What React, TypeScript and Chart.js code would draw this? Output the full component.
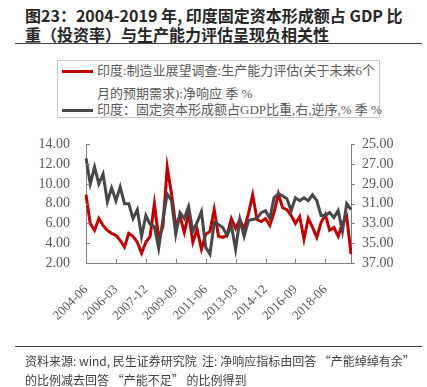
import React, { useEffect, useRef } from 'react';
import { Chart, registerables } from 'chart.js';

Chart.register(...registerables);

const categories: string[] = [
  '2004-06', '2004-09', '2004-12',
  '2005-03', '2005-06', '2005-09', '2005-12',
  '2006-03', '2006-06', '2006-09', '2006-12',
  '2007-03', '2007-06', '2007-09', '2007-12',
  '2008-03', '2008-06', '2008-09', '2008-12',
  '2009-03', '2009-06', '2009-09', '2009-12',
  '2010-03', '2010-06', '2010-09', '2010-12',
  '2011-03', '2011-06', '2011-09', '2011-12',
  '2012-03', '2012-06', '2012-09', '2012-12',
  '2013-03', '2013-06', '2013-09', '2013-12',
  '2014-03', '2014-06', '2014-09', '2014-12',
  '2015-03', '2015-06', '2015-09', '2015-12',
  '2016-03', '2016-06', '2016-09', '2016-12',
  '2017-03', '2017-06', '2017-09', '2017-12',
  '2018-03', '2018-06', '2018-09', '2018-12',
  '2019-03', '2019-06', '2019-09', '2019-12',
];

const xTickLabels: string[] = [
  '2004-06', '2006-03', '2007-12', '2009-09', '2011-06',
  '2013-03', '2014-12', '2016-09', '2018-06',
];

// 印度:制造业展望调查:生产能力评估 净响应 (left axis)
const capacitySeries: number[] = [
  8.9, 6.0, 5.3, 6.5, 5.8, 5.3, 5.0, 4.8, 4.3, 3.6,
  5.0, 4.7, 4.1, 3.0, 4.1, 4.7, 8.0, 4.5, 5.7, 11.7,
  9.0, 5.8, 6.7, 5.1, 7.0, 4.1, 5.4, 3.4, 4.9, 5.2,
  7.4, 4.7, 4.6, 4.8, 6.5, 5.5, 6.4, 5.4, 7.0, 8.9,
  6.4, 6.2, 6.5, 5.8, 7.1, 9.0, 7.6, 7.4, 6.8, 6.0,
  6.7, 4.4, 6.5, 5.6, 4.6, 6.1, 6.9, 5.3, 5.6, 4.7,
  6.0, 6.7, 2.9,
];

// 印度:固定资本形成额占GDP比重 (right axis, reversed)
const investSeries: number[] = [
  26.4, 29.0, 27.3, 29.0, 28.0, 30.8, 29.4, 30.7, 29.3, 31.0,
  31.0, 32.5, 31.6, 34.3, 32.2, 33.1, 33.3, 35.5, 32.6, 30.0,
  30.7, 34.1, 31.9, 32.5, 31.3, 33.8, 32.9, 31.8, 35.4, 36.1,
  32.9, 33.1, 33.4, 34.2, 33.2, 35.6, 32.6, 34.3, 32.7, 32.6,
  32.5, 31.9, 31.7, 32.5, 30.4, 30.0, 30.2, 30.5, 31.7, 30.4,
  30.7, 30.4, 30.7, 30.1, 30.7, 32.2, 32.2, 31.9, 32.4, 31.7,
  33.8, 31.0, 31.6,
];

const leftTicks = { min: 2, max: 14, step: 2 };
const rightTicks = { min: 25, max: 37, step: 2 };

const capacityLabel = '印度:制造业展望调查:生产能力评估(关于未来6个月的预期需求):净响应季%';
const investLabel = '印度：固定资本形成额占GDP比重,右,逆序,% 季 %';

const RED = '#C00000';
const GRAY = '#474747';
const AXIS = '#808080';
const TEXT = '#595959';
const SERIF = '"Liberation Serif", "Times New Roman", "Noto Sans CJK SC", serif';
const SANS = '"Noto Sans CJK SC", "Noto Sans", sans-serif';

const tickMarks = {
  id: 'tickMarks',
  afterDraw(chart: any) {
    const { ctx, chartArea, scales } = chart;
    ctx.save();
    ctx.strokeStyle = AXIS;
    ctx.lineWidth = 1;
    const seg = (x1: number, y1: number, x2: number, y2: number) => {
      ctx.beginPath();
      ctx.moveTo(x1, y1);
      ctx.lineTo(x2, y2);
      ctx.stroke();
    };
    const xs = scales.x;
    xs.ticks.forEach((t: any, i: number) => {
      const lab = categories[t.value];
      if (i > 0 && xTickLabels.includes(lab)) {
        const px = Math.round(xs.getPixelForTick(i)) + 0.5;
        seg(px, chartArea.bottom, px, chartArea.bottom - 4);
      }
    });
    scales.y.ticks.forEach((_t: any, i: number) => {
      const py = Math.round(scales.y.getPixelForTick(i)) + 0.5;
      seg(chartArea.left, py, chartArea.left + 4, py);
    });
    scales.y1.ticks.forEach((_t: any, i: number) => {
      const py = Math.round(scales.y1.getPixelForTick(i)) + 0.5;
      seg(chartArea.right, py, chartArea.right + 4, py);
    });
    ctx.restore();
  },
};

function ChartBox() {
  const ref = useRef<HTMLCanvasElement | null>(null);
  useEffect(() => {
    if (!ref.current) return;
    const chart = new Chart(ref.current, {
      type: 'line',
      data: {
        labels: categories,
        datasets: [
          {
            label: capacityLabel,
            data: capacitySeries,
            borderColor: RED,
            backgroundColor: RED,
            borderWidth: 3,
            pointRadius: 0,
            tension: 0,
            yAxisID: 'y',
            order: 2,
          },
          {
            label: investLabel,
            data: investSeries,
            borderColor: GRAY,
            backgroundColor: GRAY,
            borderWidth: 3,
            pointRadius: 0,
            tension: 0,
            yAxisID: 'y1',
            order: 1,
          },
        ],
      },
      options: {
        animation: false,
        responsive: false,
        maintainAspectRatio: false,
        layout: { padding: { top: 11, left: 0, right: 0, bottom: 0 } },
        plugins: {
          legend: { display: false },
          tooltip: { enabled: false },
        },
        scales: {
          x: {
            type: 'category',
            offset: false,
            grid: { display: false, drawTicks: false },
            border: { display: true, color: AXIS, width: 1 },
            ticks: {
              autoSkip: false,
              maxRotation: 45,
              minRotation: 45,
              padding: 19,
              color: TEXT,
              font: { family: SERIF, size: 13 },
              callback: (_v: any, i: number) =>
                xTickLabels.includes(categories[i]) ? categories[i] : '',
            },
            afterFit: (s: any) => {
              s.height = 87;
            },
          },
          y: {
            position: 'left',
            min: leftTicks.min,
            max: leftTicks.max,
            grid: { display: false, drawTicks: false },
            border: { display: true, color: AXIS, width: 1 },
            ticks: {
              stepSize: leftTicks.step,
              autoSkip: false,
              padding: 16,
              color: TEXT,
              font: { family: SERIF, size: 14 },
              callback: (v: any) => Number(v).toFixed(2),
            },
            afterFit: (s: any) => {
              s.width = 86;
            },
          },
          y1: {
            position: 'right',
            reverse: true,
            min: rightTicks.min,
            max: rightTicks.max,
            grid: { display: false, drawTicks: false },
            border: { display: true, color: AXIS, width: 1 },
            ticks: {
              stepSize: rightTicks.step,
              autoSkip: false,
              padding: 11,
              color: TEXT,
              font: { family: SERIF, size: 14 },
              callback: (v: any) => Number(v).toFixed(2),
            },
            afterFit: (s: any) => {
              s.width = 76;
            },
          },
        },
      },
      plugins: [tickMarks],
    } as any);
    return () => chart.destroy();
  }, []);
  return (
    <canvas
      ref={ref}
      width={427}
      height={230}
      style={{ position: 'absolute', left: 0, top: 120, width: 427, height: 230 }}
    />
  );
}

export default function App() {
  useEffect(() => {
    document.body.style.margin = '0';
  }, []);
  const legendText: React.CSSProperties = {
    position: 'absolute',
    left: 97,
    fontFamily: SERIF,
    fontSize: 13,
    color: TEXT,
    whiteSpace: 'nowrap',
    lineHeight: '16px',
  };
  return (
    <div style={{ position: 'relative', width: 427, height: 387, background: '#fff', overflow: 'hidden' }}>
      <div
        style={{
          position: 'absolute',
          left: 25,
          top: 6,
          fontFamily: SANS,
          fontWeight: 700,
          fontSize: 16,
          lineHeight: '19px',
          color: '#262626',
          whiteSpace: 'nowrap',
        }}
      >
        <div>图23：2004-2019 年, 印度固定资本形成额占 GDP 比</div>
        <div>重（投资率）与生产能力评估呈现负相关性</div>
      </div>
      <div style={{ position: 'absolute', left: 15, top: 43, width: 407, height: 0, borderTop: '1.5px solid #404040' }} />

      <ChartBox />

      <div
        style={{
          position: 'absolute',
          left: 57,
          top: 60,
          width: 323,
          height: 58,
          border: '1px solid #c8c8c8',
          boxSizing: 'border-box',
          background: '#fff',
        }}
      />
      <div style={{ position: 'absolute', left: 62, top: 70, width: 31, height: 3, background: RED }} />
      <div style={{ ...legendText, top: 63 }}>印度:制造业展望调查:生产能力评估(关于未来6个</div>
      <div style={{ ...legendText, top: 86 }}>月的预期需求):净响应 季 %</div>
      <div style={{ position: 'absolute', left: 62, top: 109, width: 31, height: 3, background: GRAY }} />
      <div style={{ ...legendText, top: 102 }}>{investLabel}</div>

      <div style={{ position: 'absolute', left: 15, top: 346, width: 407, height: 0, borderTop: '1.5px solid #404040' }} />
      <div
        style={{
          position: 'absolute',
          left: 25,
          top: 351,
          fontFamily: SANS,
          fontSize: 12,
          lineHeight: '19px',
          color: '#404040',
          whiteSpace: 'nowrap',
        }}
      >
        <div>资料来源: wind, 民生证券研究院&nbsp;&nbsp;注: 净响应指标由回答 “产能绰绰有余”</div>
        <div>的比例减去回答 “产能不足” 的比例得到</div>
      </div>
    </div>
  );
}
